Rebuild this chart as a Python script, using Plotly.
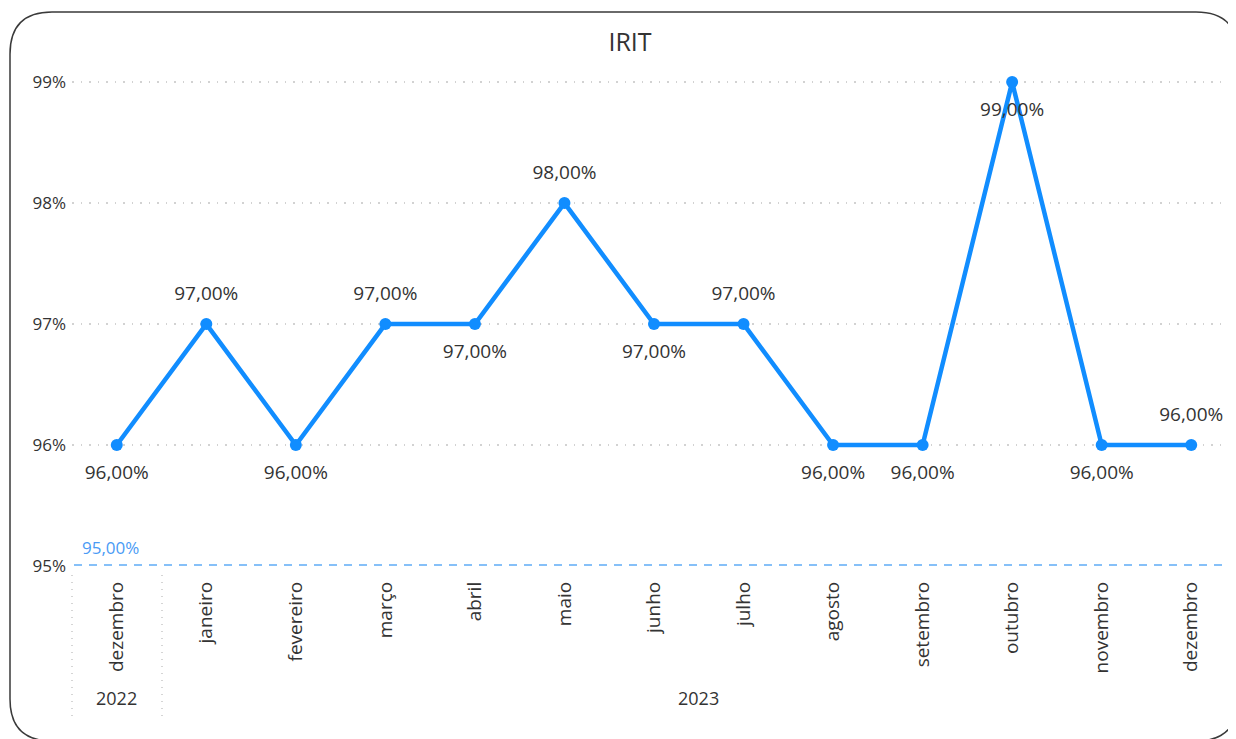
import plotly.graph_objects as go

# data
months = ['dezembro', 'janeiro', 'fevereiro', 'março', 'abril', 'maio', 'junho',
          'julho', 'agosto', 'setembro', 'outubro', 'novembro', 'dezembro']
years = ['2022', '2023']
year_span = [(0, 0), (1, 12)]
irit = [96, 97, 96, 97, 97, 98, 97, 97, 96, 96, 99, 96, 96]
label_pos = ['bottom center', 'top center', 'bottom center', 'top center', 'bottom center',
             'top center', 'bottom center', 'top center', 'bottom center', 'bottom center',
             'bottom center', 'bottom center', 'top center']
meta = 95
yticks = [95, 96, 97, 98, 99]

# page has an 8px body margin, so work in page pixels and shift
OFF = 8
W, H = 1236 - OFF, 739 - OFF
L, R, T, B = 72 - OFF, 0, 70 - OFF, 739 - 566
pw, ph = W - L - R, H - T - B

def px(x):
    return (x - OFF - L) / pw

def py(y):
    return (H - B - (y - OFF)) / ph

blue = '#118DFF'
font = 'Open Sans, sans-serif'
xs = list(range(len(months)))

fig = go.Figure()
fig.add_trace(go.Scatter(
    x=xs, y=irit, mode='lines+markers',
    line=dict(color=blue, width=4.5), marker=dict(color=blue, size=12),
    hoverinfo='skip'))
# data labels (invisible big markers push the text further from the point)
fig.add_trace(go.Scatter(
    x=xs, y=irit, mode='markers+text',
    marker=dict(size=30, opacity=0),
    text=[f'{v:.2f}%'.replace('.', ',') for v in irit],
    textposition=label_pos, textfont=dict(size=19, color='#333333', family=font),
    cliponaxis=False, hoverinfo='skip'))

# reference line
fig.add_shape(type='line', xref='paper', yref='y', x0=px(74), x1=px(1226), y0=meta, y1=meta,
              line=dict(color='#86C0F8', width=4, dash='8px,7px'), layer='below')
fig.add_annotation(xref='paper', yref='y', x=px(80), y=meta, text=f'{meta:.2f}%'.replace('.', ','),
                   showarrow=False, xanchor='left', yanchor='bottom', yshift=5,
                   font=dict(size=17, color='#4A9BF5', family=font))

# year grouping
for xv in [px(72), px(162)]:
    fig.add_shape(type='line', xref='paper', yref='paper', x0=xv, x1=xv, y0=py(575), y1=py(716),
                  line=dict(color='#C8C8C8', width=1.5, dash='1px,6px'))
for yr, (a, b) in zip(years, year_span):
    fig.add_annotation(xref='x', yref='paper', x=(a + b) / 2, y=py(698), yanchor='middle',
                       text=yr, showarrow=False,
                       font=dict(size=18, color='#333333', family=font))

# rounded frame
x0, y0, x1, y1, r = 10, 12, 1238, 741, 42
path = (f'M {px(x0)},{py(y0 + r)} Q {px(x0)},{py(y0)} {px(x0 + r)},{py(y0)} '
        f'L {px(x1 - r)},{py(y0)} Q {px(x1)},{py(y0)} {px(x1)},{py(y0 + r)} '
        f'L {px(x1)},{py(y1 - r)} Q {px(x1)},{py(y1)} {px(x1 - r)},{py(y1)} '
        f'L {px(x0 + r)},{py(y1)} Q {px(x0)},{py(y1)} {px(x0)},{py(y1 - r)} Z')
fig.add_shape(type='path', xref='paper', yref='paper', path=path,
              line=dict(color='#3A3A3A', width=1.5))

fig.update_layout(
    width=W, height=H, margin=dict(l=L, r=R, t=T, b=B),
    paper_bgcolor='white', plot_bgcolor='white', showlegend=False,
    title=dict(text='IRIT', xref='container', x=(630 - OFF) / W, xanchor='center',
               y=1 - (42 - OFF) / H, yanchor='middle',
               font=dict(size=25, color='#333333', family=font)),
    font=dict(family=font),
)
fig.update_xaxes(range=[-0.5, 12.5], tickvals=xs, ticktext=months, tickangle=-90,
                 showgrid=False, zeroline=False, showline=False, ticks='',
                 ticklabelstandoff=11, tickfont=dict(size=19, color='#333333'))
fig.update_yaxes(range=[95, 99.1], tickvals=yticks, ticktext=[f'{v}%' for v in yticks],
                 showgrid=True, gridcolor='#D2D2D2', griddash='1.5px,7px', gridwidth=1.5,
                 zeroline=False, showline=False, ticks='', ticklabelstandoff=5,
                 tickfont=dict(size=17, color='#333333'))

fig.write_html('out.html')
